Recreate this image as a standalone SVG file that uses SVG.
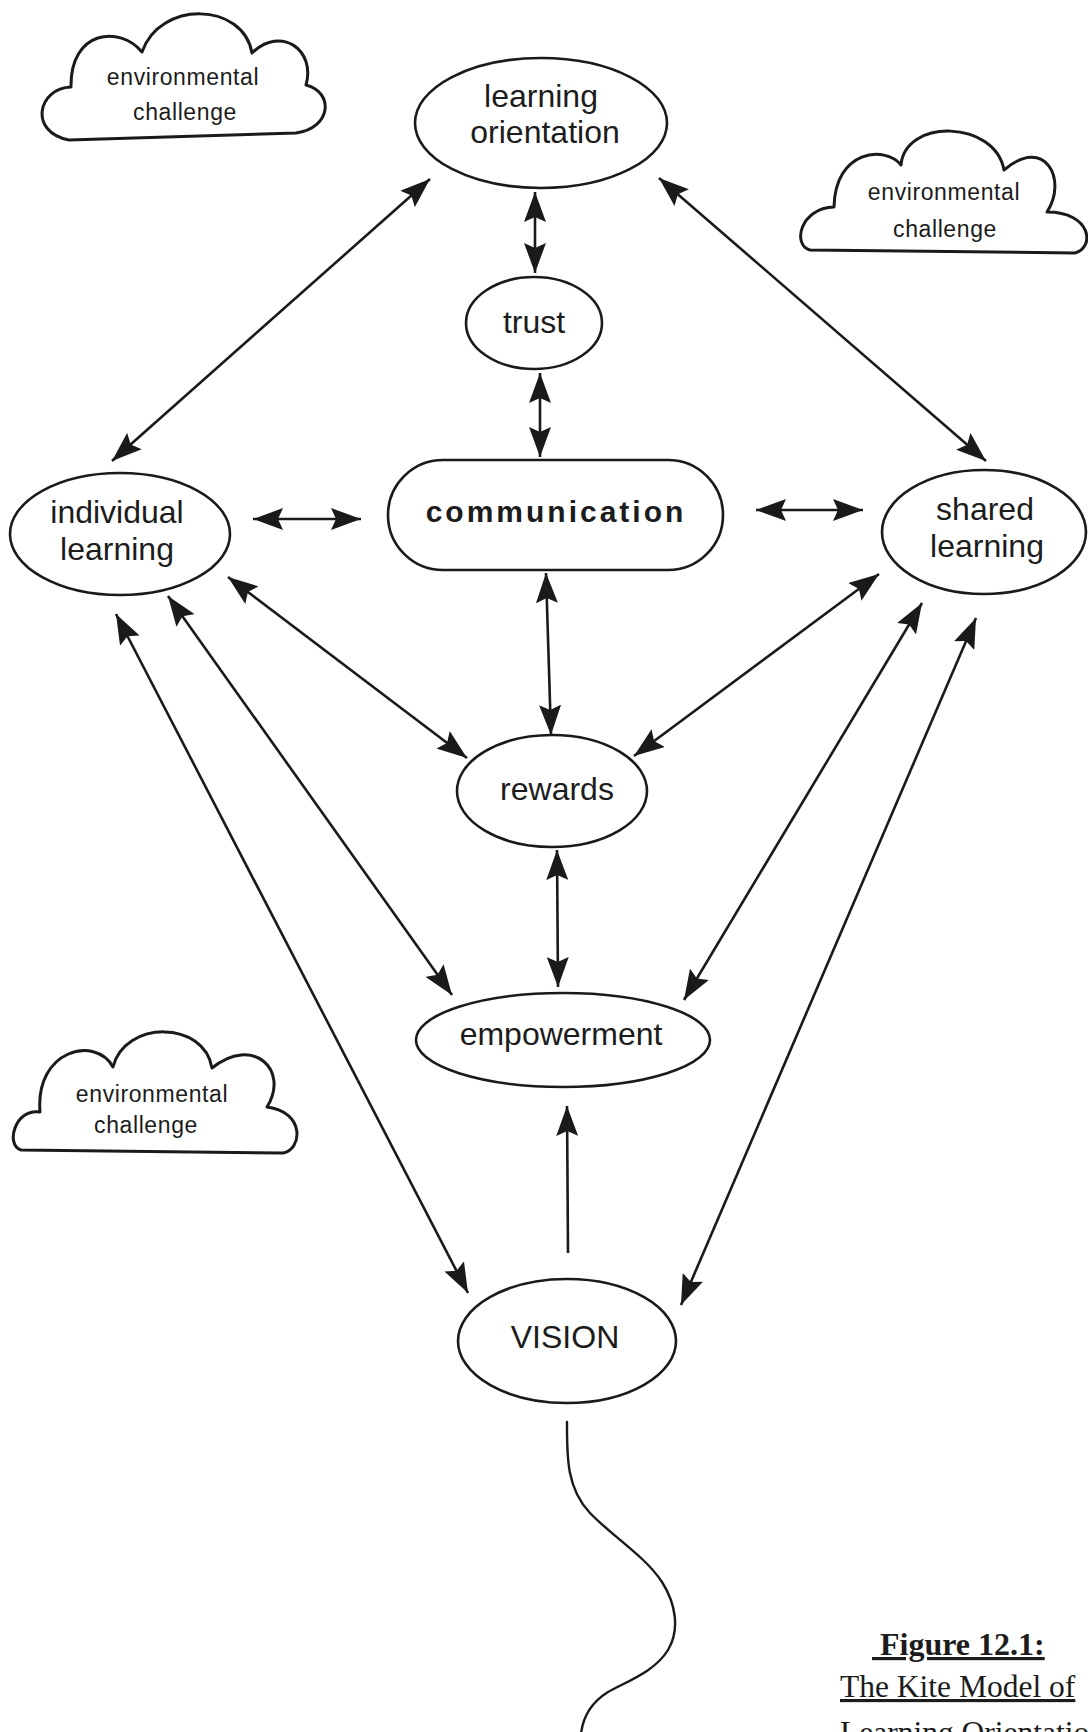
<svg xmlns="http://www.w3.org/2000/svg" width="1088" height="1732" viewBox="0 0 1088 1732">
  <style>
    .node { fill: #ffffff; stroke: #1a1a1a; stroke-width: 2.6; }
    .cloud { fill: #ffffff; stroke: #1a1a1a; stroke-width: 3; stroke-linejoin: round; }
    .lbl { font-family: "Liberation Sans", Arial, Helvetica, sans-serif; font-size: 32px; fill: #1c1c1c; text-anchor: middle; }
    .bold { font-weight: bold; font-size: 30px; letter-spacing: 3px; }
    .cl { font-family: "Liberation Sans", Arial, Helvetica, sans-serif; font-size: 23px; letter-spacing: 0.6px; fill: #1c1c1c; text-anchor: middle; }
    .edge { fill: none; stroke: #1a1a1a; stroke-width: 2.6; }
    .tail { fill: none; stroke: #1a1a1a; stroke-width: 2.4; stroke-linecap: round; }
    .cap { font-family: "Liberation Serif", "Times New Roman", serif; fill: #1c1c1c; text-decoration: underline; }
  </style>
  <defs>
    <marker id="head" viewBox="0 0 30 22" refX="30" refY="11" markerWidth="30" markerHeight="22" markerUnits="userSpaceOnUse" orient="auto-start-reverse">
      <path d="M0,0 L30,11 L0,22 L5,11 Z" fill="#1a1a1a"/>
    </marker>
  </defs>

  <rect width="1088" height="1732" fill="#ffffff"/>

  <!-- environmental challenge clouds -->
  <g id="cloud-top-left">
    <path class="cloud" d="M71,87 C38,88 28,132 69,140 L296,133 C332,128 334,92 306,85 C316,50 281,25 252,53 C243,2 160,0 142,52 C120,25 70,30 71,87 Z"/>
    <text class="cl" x="183" y="85">environmental</text>
    <text class="cl" x="185" y="120">challenge</text>
  </g>
  <g id="cloud-top-right">
    <path class="cloud" d="M834,207 C800,208 792,245 810,250 L1075,253 C1095,248 1092,212 1047,212 C1068,180 1045,135 1004,170 C995,120 905,118 901,165 C885,145 835,150 834,207 Z"/>
    <text class="cl" x="944" y="200">environmental</text>
    <text class="cl" x="945" y="237">challenge</text>
  </g>
  <g id="cloud-bottom-left">
    <path class="cloud" d="M40,1112 C15,1108 5,1145 21,1150 L283,1153 C302,1150 306,1112 267,1107 C290,1070 253,1035 212,1068 C204,1020 125,1020 113,1067 C95,1035 35,1050 40,1112 Z"/>
    <text class="cl" x="152" y="1102">environmental</text>
    <text class="cl" x="146" y="1133">challenge</text>
  </g>

  <!-- connectors -->
  <g id="connectors">
    <line class="edge" x1="430" y1="179" x2="112" y2="461" marker-start="url(#head)" marker-end="url(#head)"/>
    <line class="edge" x1="659" y1="178" x2="986" y2="461" marker-start="url(#head)" marker-end="url(#head)"/>
    <line class="edge" x1="535" y1="192" x2="535" y2="273" marker-start="url(#head)" marker-end="url(#head)"/>
    <line class="edge" x1="540" y1="373" x2="540" y2="457" marker-start="url(#head)" marker-end="url(#head)"/>
    <line class="edge" x1="253" y1="519" x2="361" y2="519" marker-start="url(#head)" marker-end="url(#head)"/>
    <line class="edge" x1="756" y1="510" x2="863" y2="510" marker-start="url(#head)" marker-end="url(#head)"/>
    <line class="edge" x1="546" y1="573" x2="551" y2="735" marker-start="url(#head)" marker-end="url(#head)"/>
    <line class="edge" x1="228" y1="577" x2="467" y2="758" marker-start="url(#head)" marker-end="url(#head)"/>
    <line class="edge" x1="879" y1="574" x2="634" y2="756" marker-start="url(#head)" marker-end="url(#head)"/>
    <line class="edge" x1="557" y1="850" x2="558" y2="987" marker-start="url(#head)" marker-end="url(#head)"/>
    <line class="edge" x1="168" y1="596" x2="452" y2="995" marker-start="url(#head)" marker-end="url(#head)"/>
    <line class="edge" x1="116" y1="614" x2="468" y2="1293" marker-start="url(#head)" marker-end="url(#head)"/>
    <line class="edge" x1="922" y1="603" x2="684" y2="1000" marker-start="url(#head)" marker-end="url(#head)"/>
    <line class="edge" x1="976" y1="618" x2="681" y2="1305" marker-start="url(#head)" marker-end="url(#head)"/>
    <line class="edge" x1="568" y1="1253" x2="567" y2="1106" marker-end="url(#head)"/>
    <!-- kite string -->
    <path class="tail" d="M567,1422 C567,1455 566,1488 590,1513 C612,1536 645,1556 662,1582 C676,1604 680,1630 668,1650 C655,1671 630,1680 608,1692 C592,1702 583,1716 581,1734"/>
  </g>

  <!-- nodes -->
  <g id="learning-orientation">
    <ellipse class="node" cx="541" cy="123" rx="126" ry="65"/>
    <text class="lbl" x="541" y="107">learning</text>
    <text class="lbl" x="545" y="143">orientation</text>
  </g>
  <g id="trust">
    <ellipse class="node" cx="534" cy="323" rx="68" ry="46"/>
    <text class="lbl" x="534" y="333">trust</text>
  </g>
  <g id="communication">
    <rect class="node" x="388" y="460" width="335" height="110" rx="55" ry="55"/>
    <text class="lbl bold" x="556" y="522">communication</text>
  </g>
  <g id="individual-learning">
    <ellipse class="node" cx="120" cy="534" rx="110" ry="61"/>
    <text class="lbl" x="117" y="523">individual</text>
    <text class="lbl" x="117" y="560">learning</text>
  </g>
  <g id="shared-learning">
    <ellipse class="node" cx="984" cy="532" rx="102" ry="62"/>
    <text class="lbl" x="985" y="520">shared</text>
    <text class="lbl" x="987" y="557">learning</text>
  </g>
  <g id="rewards">
    <ellipse class="node" cx="552" cy="791" rx="95" ry="56"/>
    <text class="lbl" x="557" y="800">rewards</text>
  </g>
  <g id="empowerment">
    <ellipse class="node" cx="563" cy="1040" rx="147" ry="47"/>
    <text class="lbl" x="561" y="1045">empowerment</text>
  </g>
  <g id="vision">
    <ellipse class="node" cx="567" cy="1341" rx="109" ry="62"/>
    <text class="lbl" x="565" y="1348">VISION</text>
  </g>

  <!-- caption (third line runs off the page edge) -->
  <g id="caption">
    <text class="cap" x="872" y="1655" font-size="32" font-weight="bold" xml:space="preserve"> Figure 12.1:</text>
    <text class="cap" x="840" y="1697" font-size="31.5">The Kite Model of</text>
    <text class="cap" x="840" y="1743" font-size="31.5">Learning Orientation</text>
  </g>
</svg>
